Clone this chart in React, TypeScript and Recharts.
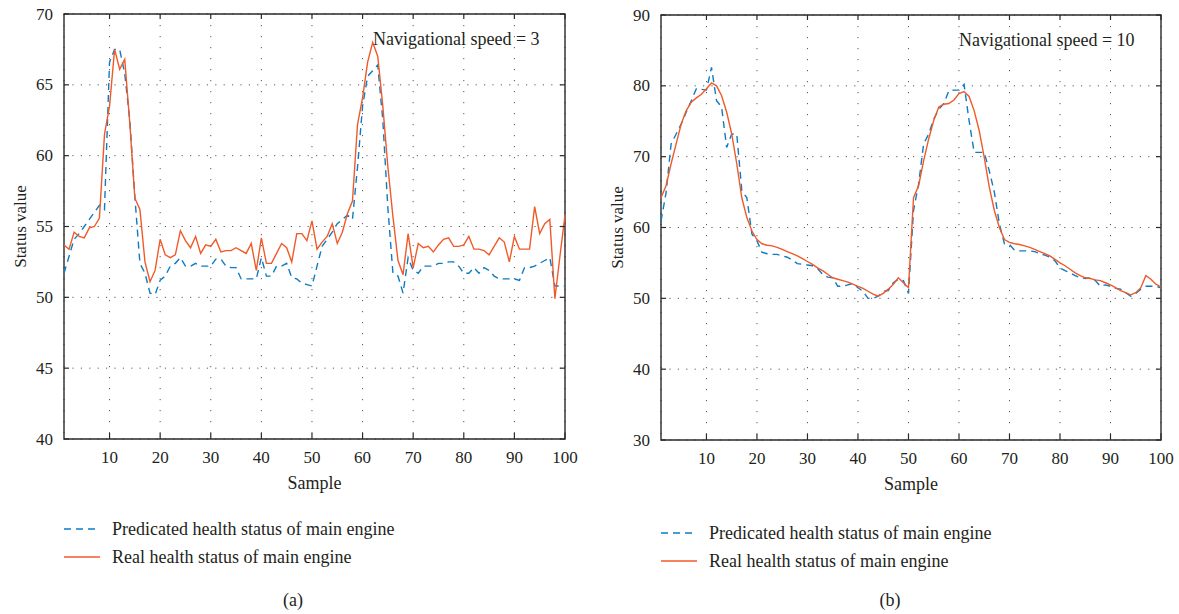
import { CartesianGrid, Line, LineChart, ReferenceArea, XAxis, YAxis } from "recharts";

// health status per sample (1..100)
const speed3Predicted = [
  51.7, 52.9, 54.1, 54.5, 55.0, 55.5, 56.0, 56.5, 56.2, 66.6,
  67.5, 67.5, 65.8, 62.5, 57.1, 52.4, 51.7, 50.3, 50.2, 51.2,
  51.5, 52.2, 52.4, 52.8, 52.2, 52.2, 52.4, 52.2, 52.2, 52.2,
  52.7, 52.7, 52.2, 52.1, 52.1, 51.3, 51.3, 51.3, 51.3, 52.8,
  51.5, 51.5, 52.2, 52.2, 52.4, 51.4, 51.3, 51.0, 50.9, 50.8,
  52.2, 53.6, 54.1, 54.6, 55.2, 55.5, 55.8, 55.5, 59.2, 63.5,
  65.6, 66.0, 66.4, 62.5, 56.3, 51.7, 51.5, 50.3, 52.8, 51.9,
  51.7, 52.2, 52.2, 52.2, 52.4, 52.4, 52.5, 52.5, 52.2, 51.7,
  51.7, 52.1, 51.7, 52.1, 51.9, 51.5, 51.3, 51.3, 51.3, 51.3,
  51.2, 52.1, 52.1, 52.2, 52.4, 52.6, 52.8, 50.8, 50.8, 50.8,
];
const speed3Real = [
  53.7, 53.4, 54.6, 54.3, 54.2, 54.9, 55.0, 55.6, 61.5, 63.5,
  67.5, 66.1, 66.8, 62.3, 57.0, 56.2, 52.5, 51.1, 51.9, 54.1,
  53.0, 52.8, 53.0, 54.7, 54.0, 53.5, 54.3, 53.1, 53.7, 53.6,
  54.1, 53.2, 53.3, 53.3, 53.5, 53.3, 53.1, 53.8, 51.9, 54.2,
  52.4, 52.4, 53.1, 53.8, 53.5, 52.5, 54.5, 54.5, 54.0, 55.4,
  53.4, 53.9, 54.3, 55.2, 53.8, 54.6, 55.9, 56.8, 62.2, 64.1,
  66.6, 68.0, 67.0, 63.5, 59.2, 55.7, 52.6, 51.6, 54.5, 52.1,
  53.8, 53.5, 53.6, 53.2, 53.7, 54.1, 54.2, 53.6, 53.6, 53.7,
  54.3, 53.4, 53.4, 53.3, 53.0, 53.6, 54.2, 53.9, 52.5, 54.3,
  53.4, 53.4, 53.4, 56.4, 54.5, 55.2, 55.5, 49.9, 52.9, 55.8,
];
const speed10Predicted = [
  60.9, 64.9, 71.8, 73.2, 74.6, 76.3, 77.9, 79.6, 79.5, 79.4,
  82.6, 77.9, 77.0, 71.3, 73.2, 73.2, 65.2, 64.2, 59.1, 58.1,
  56.5, 56.3, 56.2, 56.2, 56.0, 55.8, 55.4, 54.9, 54.8, 54.7,
  54.6, 54.2, 53.4, 53.0, 52.9, 51.7, 51.7, 51.9, 52.1, 51.5,
  51.0, 50.0, 50.0, 50.3, 51.0, 51.1, 52.2, 52.7, 52.5, 50.7,
  62.4, 66.1, 71.8, 73.2, 75.3, 76.7, 77.5, 79.3, 79.4, 79.4,
  80.2, 75.1, 70.6, 70.6, 70.6, 68.0, 65.0, 60.5, 57.7, 57.6,
  56.8, 56.7, 56.7, 56.7, 56.6, 56.3, 56.1, 55.8, 55.3, 54.3,
  53.9, 53.6, 53.2, 52.9, 52.8, 52.9, 52.5, 51.7, 51.9, 51.7,
  51.4, 51.3, 50.8, 50.3, 50.7, 51.3, 51.7, 51.7, 51.7, 51.5,
];
const speed10Real = [
  64.2, 65.9, 69.0, 71.8, 74.6, 76.5, 77.7, 78.3, 78.8, 79.6,
  80.4, 80.0, 78.6, 76.3, 73.2, 69.0, 64.2, 61.4, 59.5, 58.3,
  57.7, 57.5, 57.4, 57.2, 56.9, 56.6, 56.3, 56.0, 55.6, 55.2,
  54.8, 54.3, 53.9, 53.4, 52.9, 52.7, 52.5, 52.3, 52.0, 51.7,
  51.4, 51.0, 50.6, 50.3, 50.7, 51.3, 52.0, 52.9, 52.2, 51.5,
  64.2, 65.9, 69.4, 72.5, 75.1, 77.0, 77.4, 77.5, 78.0, 78.9,
  79.2, 78.5, 76.5, 73.7, 69.9, 65.7, 62.4, 60.0, 58.3, 57.9,
  57.7, 57.6, 57.4, 57.2, 56.9, 56.6, 56.3, 56.0, 55.5, 55.0,
  54.6, 54.1, 53.6, 53.2, 52.9, 52.8, 52.6, 52.5, 52.2, 51.9,
  51.5, 51.1, 50.8, 50.5, 50.8, 51.5, 53.2, 52.7, 52.0, 51.6,
];

const sampleTicks = [10, 20, 30, 40, 50, 60, 70, 80, 90, 100];
const speed3Ticks = [40, 45, 50, 55, 60, 65, 70];
const speed10Ticks = [30, 40, 50, 60, 70, 80, 90];

const predictedLabel = "Predicated health status of main engine";
const realLabel = "Real health status of main engine";

const BLUE = "#0d7cc4";
const RED = "#f05a28";
const INK = "#231f20";
const FRAME = "#2a2a2a";
const FONT = "'Liberation Serif', 'DejaVu Serif', serif";
const Y_AXIS_W = 64;

interface PanelProps {
  left: number;
  width: number;
  height: number;
  top: number;
  right: number;
  predicted: number[];
  real: number[];
  yTicks: number[];
  note: string;
  noteX: number;
  noteY: number;
  legendY: number;
  caption: string;
}

function Panel({ left, width, height, top, right, predicted, real, yTicks, note, noteX, noteY, legendY, caption }: PanelProps) {
  const data = real.map((value, i) => ({ sample: i + 1, real: value, predicted: predicted[i] }));
  const plotLeft = Y_AXIS_W;
  const plotRight = width - right;
  const plotBottom = height - 31;
  const plotTop = top;
  const yMin = yTicks[0];
  const yMax = yTicks[yTicks.length - 1];

  const renderYTick = ({ y, payload }: { y: number; payload: { value: number } }) => (
    <g>
      <line x1={plotLeft} x2={plotLeft + 5} y1={y} y2={y} stroke={FRAME} strokeWidth={1.2} />
      <line x1={plotRight - 5} x2={plotRight} y1={y} y2={y} stroke={FRAME} strokeWidth={1.2} />
      <text x={plotLeft - 11} y={y} dy="0.33em" textAnchor="end" fontSize={17} fill={INK} fontFamily={FONT}>
        {payload.value}
      </text>
    </g>
  );

  const renderXTick = ({ x, payload }: { x: number; payload: { value: number } }) => (
    <g>
      <line x1={x} x2={x} y1={plotBottom} y2={plotBottom - 6} stroke={FRAME} strokeWidth={1.2} />
      <line x1={x} x2={x} y1={plotTop} y2={plotTop + 5} stroke={FRAME} strokeWidth={1.2} />
      <text x={x} y={plotBottom + 24} textAnchor="middle" fontSize={17} fill={INK} fontFamily={FONT}>
        {payload.value}
      </text>
    </g>
  );

  const center = (plotLeft + plotRight) / 2;

  return (
    <div style={{ position: "absolute", left, top: 0, width, height: 614 }}>
      <LineChart width={width} height={height} data={data} margin={{ top, right, bottom: 0, left: 0 }}>
        <CartesianGrid vertical={false} stroke="#5a5a5a" strokeDasharray="1.2 7.2" />
        <CartesianGrid horizontal={false} stroke="#5a5a5a" strokeDasharray="1.2 9.8" />
        <XAxis
          dataKey="sample"
          type="number"
          domain={[1, 100]}
          ticks={sampleTicks}
          interval={0}
          axisLine={false}
          tickLine={false}
          height={31}
          tick={renderXTick}
        />
        <YAxis
          type="number"
          domain={[yMin, yMax]}
          ticks={yTicks}
          interval={0}
          axisLine={false}
          tickLine={false}
          width={Y_AXIS_W}
          tick={renderYTick}
        />
        <ReferenceArea x1={1} x2={100} y1={yMin} y2={yMax} fill="none" stroke={FRAME} strokeWidth={1.4} />
        <Line
          type="linear"
          dataKey="predicted"
          stroke={BLUE}
          strokeWidth={1.4}
          strokeDasharray="7 5"
          dot={false}
          isAnimationActive={false}
        />
        <Line type="linear" dataKey="real" stroke={RED} strokeWidth={1.4} dot={false} isAnimationActive={false} />
      </LineChart>
      <svg width={width} height={614} style={{ position: "absolute", left: 0, top: 0, pointerEvents: "none" }}>
        <g fontFamily={FONT} fill={INK}>
          <text
            x={20}
            y={(plotTop + plotBottom) / 2}
            transform={`rotate(-90 20 ${(plotTop + plotBottom) / 2})`}
            textAnchor="middle"
            dy="0.33em"
            fontSize={17}
          >
            Status value
          </text>
          <text x={noteX} y={noteY} fontSize={18}>
            {note}
          </text>
          <text x={center} y={plotBottom + 50} textAnchor="middle" fontSize={18}>
            Sample
          </text>
          <line x1={plotLeft} x2={plotLeft + 36} y1={legendY} y2={legendY} stroke={BLUE} strokeWidth={1.4} strokeDasharray="7 5" />
          <text x={plotLeft + 48} y={legendY + 6} fontSize={18}>
            {predictedLabel}
          </text>
          <line x1={plotLeft} x2={plotLeft + 36} y1={legendY + 28} y2={legendY + 28} stroke={RED} strokeWidth={1.4} />
          <text x={plotLeft + 48} y={legendY + 34} fontSize={18}>
            {realLabel}
          </text>
          <text x={293} y={606} textAnchor="middle" fontSize={18}>
            {caption}
          </text>
        </g>
      </svg>
    </div>
  );
}

export default function App() {
  return (
    <div style={{ position: "absolute", left: 0, top: 0, width: 1179, height: 614, background: "#fff" }}>
      <Panel
        left={0}
        width={590}
        height={470}
        top={14}
        right={25}
        predicted={speed3Predicted}
        real={speed3Real}
        yTicks={speed3Ticks}
        note="Navigational speed = 3"
        noteX={373}
        noteY={45}
        legendY={529}
        caption="(a)"
      />
      <Panel
        left={597}
        width={582}
        height={471}
        top={15}
        right={18}
        predicted={speed10Predicted}
        real={speed10Real}
        yTicks={speed10Ticks}
        note="Navigational speed = 10"
        noteX={362}
        noteY={46}
        legendY={533}
        caption="(b)"
      />
    </div>
  );
}
